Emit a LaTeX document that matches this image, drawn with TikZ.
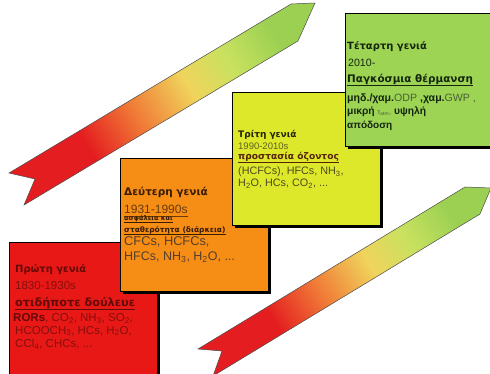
\documentclass[tikz,border=0pt]{standalone}
\usepackage{fontspec}
\setmainfont{Liberation Sans}
\newfontfamily\hfont{DejaVu Sans}
\usetikzlibrary{shadows}

% box fills
\definecolor{boxred}{RGB}{232,24,22}
\definecolor{boxorange}{RGB}{246,142,22}
\definecolor{boxyellow}{RGB}{222,232,42}
\definecolor{boxgreen}{RGB}{158,212,84}
% ribbon gradient
\definecolor{hred}{RGB}{228,30,32}
\definecolor{horange}{RGB}{240,125,55}
\definecolor{hyellow}{RGB}{240,212,92}
\definecolor{hlgreen}{RGB}{200,225,95}
\definecolor{hgreen}{RGB}{155,208,82}
% inks
\definecolor{inkred}{RGB}{100,10,8}
\definecolor{inkredl}{RGB}{132,16,14}
\definecolor{inkbrown}{RGB}{55,28,4}
\definecolor{inkbrownl}{RGB}{105,58,12}
\definecolor{inkolive}{RGB}{35,35,5}
\definecolor{inkolivel}{RGB}{95,95,35}
\definecolor{inkrust}{RGB}{85,35,10}
\definecolor{inkgreen}{RGB}{20,38,14}
\definecolor{inkgreenl}{RGB}{70,95,55}

\pgfdeclarehorizontalshading{heat}{100bp}{color(0bp)=(hred); color(34bp)=(hred);
  color(45bp)=(horange); color(56bp)=(hyellow); color(65bp)=(hlgreen);
  color(75bp)=(hgreen); color(100bp)=(hgreen)}

\newcommand\hsz[1]{\hfont\bfseries\fontsize{#1}{#1}\selectfont}
\newcommand\bsz[1]{\fontsize{#1}{#1}\selectfont}

\begin{document}
\begin{tikzpicture}[x=1pt,y=-1pt,
  gen/.style={draw=black, line width=0.8pt, inner sep=0pt,
    minimum width=148pt, minimum height=133pt, anchor=north west,
    drop shadow={shadow xshift=3pt, shadow yshift=-3pt, opacity=1, fill=black}},
  txt/.style={inner sep=0pt, anchor=base west},
  ribbon/.style={shading=heat, shading angle=31, draw=black!70, line width=0.5pt},
  uline/.style={line width=0.9pt}]
\useasboundingbox (0,0) rectangle (490,374);

% the two rising ribbons
\shade[ribbon] (9,173) -- (291,4) -- (315,3) -- (298,41) -- (24,205) -- (35,179) -- cycle;
\shade[ribbon] (198,349) -- (465,187) -- (491,188) -- (480,214) -- (213,376) -- (222,351) -- cycle;

% generation boxes
\node[gen, fill=boxred] (g1) at (9,242) {};
\node[gen, fill=boxorange] (g2) at (120,158) {};
\node[gen, fill=boxyellow] (g3) at (232,92) {};
\node[gen, fill=boxgreen] (g4) at (345,13) {};

% first generation
\node[txt, font=\hsz{10}, text=inkred] (g1h) at (15,272.5) {Πρώτη γενιά};
\node[txt, font=\bsz{11.5}, text=inkredl] (g1d) at (15,289) {1830-1930s};
\node[txt, font=\hsz{11.3}, text=inkred] (g1s) at (15,306) {οτιδήποτε δούλευε};
\draw[uline, inkred] ([yshift=-3pt]g1s.base west) -- ([yshift=-3pt]g1s.base east);
\node[txt, font=\bsz{11.5}, text=inkredl] (g1a) at (13,321.5)
  {{\bfseries\color{inkred}RORs}, CO\textsubscript{2}, NH\textsubscript{3}, SO\textsubscript{2},};
\node[txt, font=\bsz{11.5}, text=inkredl] (g1b) at (15,334)
  {HCOOCH\textsubscript{3}, HCs, H\textsubscript{2}O,};
\node[txt, font=\bsz{11.5}, text=inkredl] (g1c) at (15,347.5)
  {CCl\textsubscript{4}, CHCs, ...};

% second generation
\node[txt, font=\hsz{10.5}, text=inkbrown] (g2h) at (124,196) {Δεύτερη γενιά};
\node[txt, font=\bsz{12}, text=inkbrownl] (g2d) at (124,214) {1931-1990s};
\draw[uline, inkbrownl] ([yshift=-2pt]g2d.base west) -- ([yshift=-2pt]g2d.base east);
\node[txt, font=\hsz{6.6}, text=inkbrown] (g2s) at (124,220.5) {ασφάλεια και};
\draw[uline, inkbrown] ([yshift=-2pt]g2s.base west) -- ([yshift=-2pt]g2s.base east);
\node[txt, font=\hsz{7.5}, text=inkbrown] (g2t) at (124,232.5) {σταθερότητα (διάρκεια)};
\draw[uline, inkbrown] ([yshift=-2pt]g2t.base west) -- ([yshift=-2pt]g2t.base east);
\node[txt, font=\bsz{12.8}, text=inkbrown!85] (g2a) at (124,245) {CFCs, HCFCs,};
\node[txt, font=\bsz{12.5}, text=inkbrown!85] (g2b) at (124,261)
  {HFCs, NH\textsubscript{3}, H\textsubscript{2}O, ...};

% third generation
\node[txt, font=\hsz{9}, text=inkolive] (g3h) at (238,137.5) {Τρίτη γενιά};
\node[txt, font=\bsz{9.5}, text=inkolivel] (g3d) at (238,149.5) {1990-2010s};
\node[txt, font=\hsz{9.1}, text=inkrust] (g3s) at (238,160) {προστασία όζοντος};
\draw[uline, inkrust] ([yshift=-2.5pt]g3s.base west) -- ([yshift=-2.5pt]g3s.base east);
\node[txt, font=\bsz{10.8}, text=inkolivel!80!black] (g3a) at (238,175)
  {(HCFCs), HFCs, NH\textsubscript{3},};
\node[txt, font=\bsz{10.8}, text=inkolivel!80!black] (g3b) at (238,187)
  {H\textsubscript{2}O, HCs, CO\textsubscript{2}, ...};

% fourth generation
\node[txt, font=\hsz{10}, text=inkgreen] (g4h) at (347,50) {Τέταρτη γενιά};
\node[txt, font=\bsz{10.6}, text=inkgreen] (g4d) at (348,66.5) {2010-};
\node[txt, font=\hsz{10.4}, text=inkgreen] (g4s) at (347,83) {Παγκόσμια θέρμανση};
\draw[uline, inkgreen] ([yshift=-2.5pt]g4s.base west) -- ([yshift=-2.5pt]g4s.base east);
\node[txt, font=\bsz{10.6}, text=inkgreenl] (g4a) at (347,101.5)
  {{\bfseries\color{inkgreen}μηδ./χαμ.}ODP\ {\bfseries\color{inkgreen},χαμ.}GWP\ ,};
\node[txt, font=\bsz{10.3}\bfseries, text=inkgreen] (g4b) at (347,115)
  {μικρή {\mdseries\color{inkgreenl}\bsz{7}τ\textsubscript{atm},} υψηλή};
\node[txt, font=\bsz{10}\bfseries, text=inkgreen] (g4c) at (347,129) {απόδοση};
\end{tikzpicture}
\end{document}
